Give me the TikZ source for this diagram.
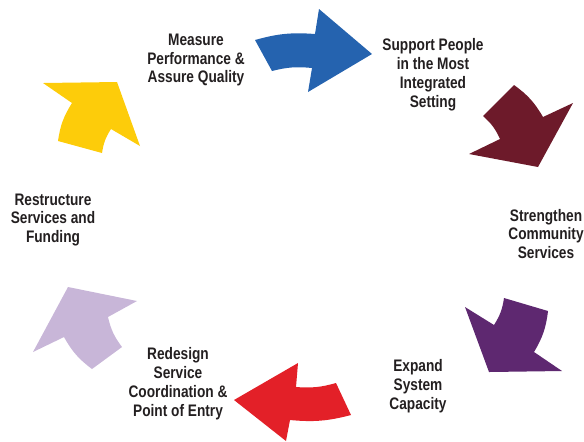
\documentclass[tikz,border=0pt]{standalone}
\usepackage{fontspec}
\newfontfamily\labelfont{Liberation Sans}[FakeStretch=0.82]
\definecolor{arrowblue}{RGB}{37,99,175}
\definecolor{arrowmaroon}{RGB}{109,26,42}
\definecolor{arrowpurple}{RGB}{94,40,112}
\definecolor{arrowred}{RGB}{227,32,40}
\definecolor{arrowlilac}{RGB}{200,182,216}
\definecolor{arrowyellow}{RGB}{253,204,10}
\definecolor{labeltext}{RGB}{35,31,32}

\begin{document}
\begin{tikzpicture}[x=0.02cm,y=0.02cm,
  lbl/.style={font=\labelfont\bfseries\fontsize{9.5}{10.8}\selectfont,
    text=labeltext, align=center, inner sep=0pt}]
\useasboundingbox (0,0) rectangle (584,-441);
% arrows round the cycle
\fill[arrowblue] (255,-40) to[bend left=10] (315,-34) -- (319,-9) -- (372,-54)
  -- (308,-92) -- (312,-68) to[bend right=10] (272,-71) -- cycle;
\fill[arrowmaroon] (514,-85) -- (483,-116) to[bend left=12] (500,-139) -- (469,-154)
  -- (538,-167) -- (573,-103) -- (543,-117) to[bend right=12] cycle;
\fill[arrowpurple] (504,-298) -- (548,-311) to[bend left=12] (534,-352) -- (562,-371)
  -- (489,-372) -- (465,-307) -- (494,-325) to[bend right=12] cycle;
\fill[arrowred] (336,-383) -- (351,-415) to[bend left=10] (290,-420) -- (286,-441)
  -- (234,-400) -- (298,-363) -- (296,-387) to[bend right=10] cycle;
\fill[arrowlilac] (68,-287) -- (137,-301) -- (108,-317) to[bend right=12] (122,-347)
  -- (92,-369) to[bend left=12] (64,-337) -- (33,-352) -- cycle;
\fill[arrowyellow] (43,-83) -- (117,-82) -- (140,-146) -- (111,-129) to[bend right=12] (102,-153)
  -- (58,-141) to[bend left=12] (72,-103) -- cycle;
% labels
\node[lbl] (measure) at (196,-60) {Measure\\Performance \&\\Assure Quality};
\node[lbl] (support) at (433,-75) {Support People\\in the Most\\Integrated\\Setting};
\node[lbl] (strengthen) at (546,-234) {Strengthen\\Community\\Services};
\node[lbl] (expand) at (418,-386) {Expand\\System\\Capacity};
\node[lbl] (redesign) at (178,-384) {Redesign\\Service\\Coordination \&\\Point of Entry};
\node[lbl] (restructure) at (53,-220) {Restructure\\Services and\\Funding};
\end{tikzpicture}
\end{document}
